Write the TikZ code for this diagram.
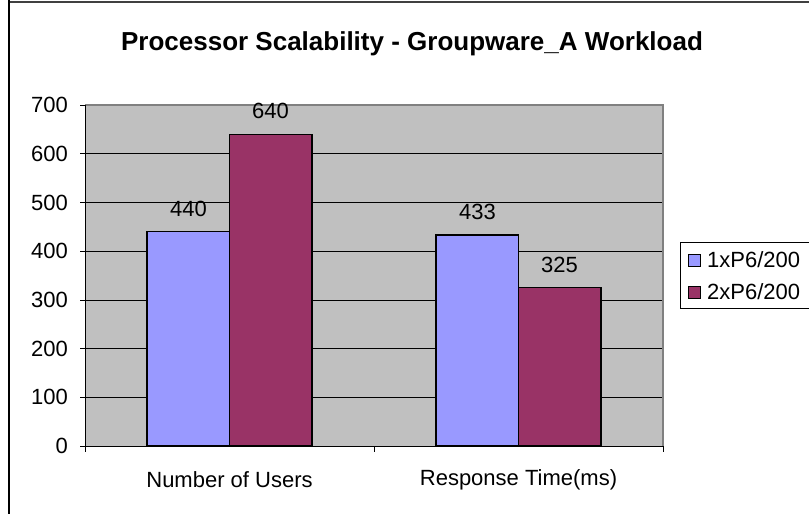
\documentclass[tikz,border=0pt]{standalone}
\usepackage{fontspec}
\setmainfont{Liberation Sans}
\definecolor{oneproc}{HTML}{9999FF}
\definecolor{twoproc}{HTML}{993366}
\definecolor{plotgray}{HTML}{C0C0C0}
\begin{document}
\begin{tikzpicture}[
        x=1pt, y=-1pt,
        bar/.style={draw=black, line width=1.3pt},
        gridline/.style={black, line width=0.7pt},
        tick/.style={black, line width=0.7pt},
        ticklabel/.style={anchor=east, inner sep=0pt, font=\fontsize{22}{26}\selectfont},
        datalabel/.style={inner sep=0pt, font=\fontsize{22}{26}\selectfont},
        catlabel/.style={inner sep=0pt, font=\fontsize{22}{26}\selectfont},
        legendkey/.style={draw=black, line width=0.8pt, minimum size=12pt, inner sep=0pt},
        legendtext/.style={anchor=west, inner sep=0pt, font=\fontsize{22}{26}\selectfont}
    ]
        \useasboundingbox (0,0) rectangle (809,514);
        % Chart frame (only top and left edge inside the picture)
        \draw[black!75, line width=2.5pt] (9,2) -- (809,2);
        \draw[black, line width=1.5pt] (9,0) -- (9,514);

        % Title
        \node[font=\bfseries\fontsize{26}{31}\selectfont] (title) at (412,44) {Processor Scalability - Groupware\_A Workload};

        % Plot area with gridlines (drawn first)
        \fill[plotgray] (85,105) rectangle (663,446);
        \foreach \v in {100,200,...,600} {
            \draw[gridline] (85,{446-\v*0.48714}) -- (663,{446-\v*0.48714});
        }
        \draw[black!50, line width=2pt] (85,105) -- (663,105) -- (663,446);

        % Axes, ticks and tick labels
        \draw[tick] (85,105) -- (85,446) -- (663,446);
        \foreach \v in {0,100,...,700} {
            \draw[tick] (80,{446-\v*0.48714}) -- (85,{446-\v*0.48714});
            \node[ticklabel] (y\v) at (68,{446-\v*0.48714}) {\v};
        }
        \foreach \x in {85,374,663} {
            \draw[tick] (\x,446) -- (\x,452);
        }

        % Bars and value labels
        \foreach \c/\a/\b/\name [count=\k] in {229.5/440/640/Number of Users, 518.5/433/325/Response Time(ms)} {
            \draw[bar, fill=oneproc] (\c-82.5,446) rectangle (\c,{446-\a*0.48714});
            \draw[bar, fill=twoproc] (\c,446) rectangle (\c+82.5,{446-\b*0.48714});
            \node[datalabel] (va\k) at (\c-41,{446-\a*0.48714-23}) {\a};
            \node[datalabel] (vb\k) at (\c+41,{446-\b*0.48714-23}) {\b};
            \node[catlabel] (cat\k) at (\c,480) {\name};
        }

        % Legend
        \draw[black, line width=0.8pt] (680,242) rectangle (815,308);
        \node[legendkey, fill=oneproc] (key1) at (694.5,260) {};
        \node[legendtext] (leg1) at (707,260) {1xP6/200};
        \node[legendkey, fill=twoproc] (key2) at (694.5,292) {};
        \node[legendtext] (leg2) at (707,292) {2xP6/200};
    \end{tikzpicture}
\end{document}
